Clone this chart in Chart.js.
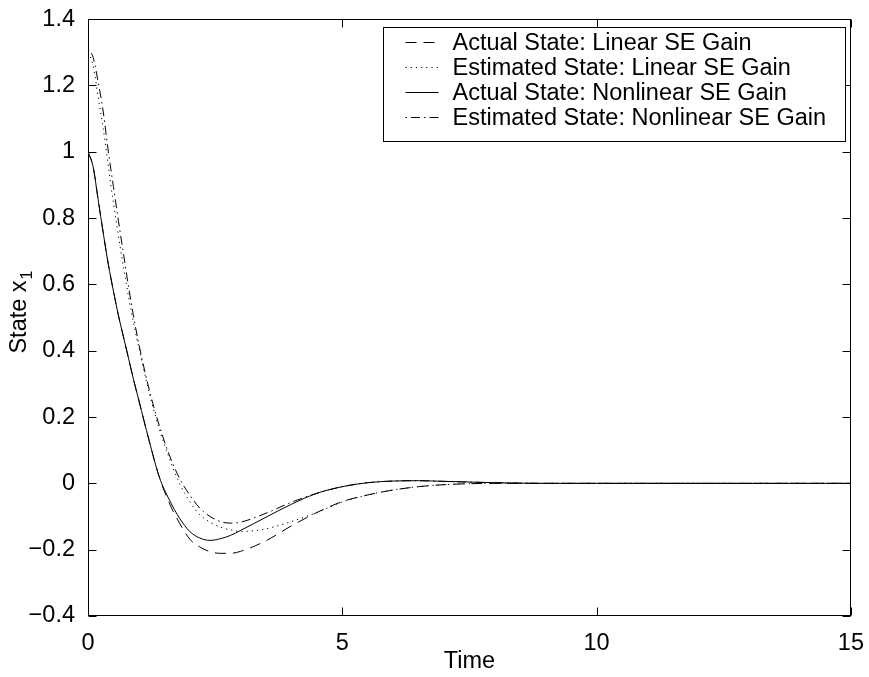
<!DOCTYPE html>
<html>
<head>
<meta charset="utf-8">
<script src="https://cdn.jsdelivr.net/npm/chart.js@4.4.0/dist/chart.umd.min.js"></script>
<style>
html, body { margin: 0; padding: 0; background: #fff; }
#wrap { width: 869px; height: 677px; }
</style>
</head>
<body>
<div id="wrap"><canvas id="myChart" width="869" height="677"></canvas></div>
<script>
// time samples (denser where the curves bend)
var time = [0, 0.1, 0.2, 0.3, 0.4, 0.5, 0.6, 0.7, 0.8, 0.9, 1.0, 1.2, 1.4, 1.6, 1.8, 2.0, 2.2, 2.4, 2.6, 2.8, 3.0, 3.5, 4.0, 4.5, 5.0, 5.5, 6.0, 6.5, 7.0, 8.0, 9.0, 10, 11, 12, 13, 14, 15];

// values
var actualLinear = [1.00, 0.955, 0.855, 0.755, 0.66, 0.58, 0.505, 0.44, 0.375, 0.31, 0.25, 0.13, 0.02, -0.06, -0.12, -0.168, -0.192, -0.206, -0.211, -0.211, -0.205, -0.173, -0.128, -0.088, -0.055, -0.035, -0.02, -0.01, -0.004, 0, 0, 0, 0, 0, 0, 0, 0];
var estimatedLinear = [1.30, 1.26, 1.165, 1.07, 0.955, 0.845, 0.745, 0.65, 0.56, 0.48, 0.41, 0.275, 0.165, 0.075, 0.0, -0.055, -0.095, -0.117, -0.132, -0.14, -0.145, -0.137, -0.115, -0.088, -0.056, -0.035, -0.02, -0.01, -0.004, 0, 0, 0, 0, 0, 0, 0, 0];
var actualNonlinear = [1.00, 0.955, 0.855, 0.755, 0.66, 0.58, 0.505, 0.44, 0.375, 0.31, 0.25, 0.13, 0.02, -0.05, -0.105, -0.145, -0.165, -0.172, -0.167, -0.157, -0.142, -0.102, -0.063, -0.03, -0.01, 0.002, 0.007, 0.008, 0.006, 0.002, 0, 0, 0, 0, 0, 0, 0];
var estimatedNonlinear = [1.31, 1.285, 1.21, 1.12, 1.00, 0.895, 0.79, 0.69, 0.59, 0.50, 0.42, 0.285, 0.175, 0.085, 0.015, -0.035, -0.075, -0.10, -0.115, -0.12, -0.117, -0.09, -0.057, -0.03, -0.01, 0.002, 0.007, 0.008, 0.006, 0.002, 0, 0, 0, 0, 0, 0, 0];

var seriesNames = ['Actual State: Linear SE Gain', 'Estimated State: Linear SE Gain', 'Actual State: Nonlinear SE Gain', 'Estimated State: Nonlinear SE Gain'];
var xTickLabels = ['0', '5', '10', '15'];
var yTickLabels = ['\u22120.4', '\u22120.2', '0', '0.2', '0.4', '0.6', '0.8', '1', '1.2', '1.4'];

var FONT = "'Liberation Sans', Arial, Helvetica, sans-serif";
var FSIZE = 23.5;

function pts(arr) {
    return time.map(function (t, i) { return { x: t, y: arr[i] }; });
}

function ds(label, arr, dash) {
    return {
        label: label,
        data: pts(arr),
        borderColor: '#000',
        borderWidth: 1,
        borderDash: dash,
        pointRadius: 0,
        fill: false,
        cubicInterpolationMode: 'monotone'
    };
}

// box around the axes, inward ticks, legend and y label
var decorations = {
    id: 'decorations',
    afterDatasetsDraw: function (chart) {
        var ctx = chart.ctx, a = chart.chartArea;
        var xs = chart.scales.x, ys = chart.scales.y;
        var L = Math.round(a.left) + 0.5, R = Math.round(a.right) - 0.5;
        var T = Math.round(a.top) + 0.5, B = Math.round(a.bottom) - 0.5;
        ctx.save();
        ctx.strokeStyle = '#000';
        ctx.lineWidth = 1;
        ctx.setLineDash([]);
        ctx.strokeRect(L, T, R - L, B - T);
        var tl = 8;
        ctx.beginPath();
        xs.ticks.forEach(function (t) {
            var px = Math.round(xs.getPixelForValue(t.value)) + 0.5;
            ctx.moveTo(px, B); ctx.lineTo(px, B - tl);
            ctx.moveTo(px, T); ctx.lineTo(px, T + tl);
        });
        ys.ticks.forEach(function (t) {
            var py = Math.round(ys.getPixelForValue(t.value)) + 0.5;
            ctx.moveTo(L, py); ctx.lineTo(L + tl, py);
            ctx.moveTo(R, py); ctx.lineTo(R - tl, py);
        });
        ctx.stroke();

        // legend
        var bw = 462, bh = 114;
        var bx = Math.round(a.right) - 6 - bw + 0.5, by = Math.round(a.top) + 8 + 0.5;
        ctx.fillStyle = '#fff';
        ctx.fillRect(bx, by, bw, bh);
        ctx.strokeRect(bx, by, bw, bh);
        ctx.font = FSIZE + 'px ' + FONT;
        ctx.textBaseline = 'middle';
        ctx.textAlign = 'left';
        chart.data.datasets.forEach(function (d, i) {
            var cy = Math.round(by + 14 + i * 25.3) + 0.5;
            ctx.setLineDash(d.borderDash || []);
            ctx.beginPath();
            ctx.moveTo(bx + 22, cy);
            ctx.lineTo(bx + 55, cy);
            ctx.stroke();
            ctx.setLineDash([]);
            ctx.fillStyle = '#000';
            ctx.fillText(d.label, bx + 69, cy + 1);
        });

        // y axis title with subscript
        var main = 'State x', sub = '1';
        ctx.font = FSIZE + 'px ' + FONT;
        var w1 = ctx.measureText(main).width;
        ctx.font = '16px ' + FONT;
        var w2 = ctx.measureText(sub).width;
        var cyT = (a.top + a.bottom) / 2 - 5;
        ctx.translate(26, cyT + (w1 + w2) / 2);
        ctx.rotate(-Math.PI / 2);
        ctx.textBaseline = 'alphabetic';
        ctx.fillStyle = '#000';
        ctx.font = FSIZE + 'px ' + FONT;
        ctx.fillText(main, 0, 0);
        ctx.font = '16px ' + FONT;
        ctx.fillText(sub, w1 + 1, 6);
        ctx.restore();
    }
};

var ctx = document.getElementById('myChart').getContext('2d');
var chart = new Chart(ctx, {
    type: 'line',
    data: {
        datasets: [
            ds(seriesNames[0], actualLinear, [11, 7]),
            ds(seriesNames[1], estimatedLinear, [1.2, 4]),
            ds(seriesNames[2], actualNonlinear, []),
            ds(seriesNames[3], estimatedNonlinear, [1.5, 4, 9, 4])
        ]
    },
    options: {
        responsive: false,
        animation: false,
        devicePixelRatio: 1,
        layout: { padding: { left: 0, right: 18, top: 16, bottom: 0 } },
        plugins: { legend: { display: false }, tooltip: { enabled: false } },
        scales: {
            x: {
                type: 'linear',
                min: 0,
                max: 15,
                grid: { display: false },
                border: { display: false },
                ticks: {
                    stepSize: 5,
                    padding: 5,
                    color: '#000',
                    maxRotation: 0,
                    font: { family: FONT, size: FSIZE },
                    callback: function (v, i) { return xTickLabels[i]; }
                },
                title: {
                    display: true,
                    text: 'Time',
                    color: '#000',
                    font: { family: FONT, size: FSIZE },
                    padding: { top: 0, bottom: 1 }
                },
                afterFit: function (s) { s.height = 61; }
            },
            y: {
                min: -0.4,
                max: 1.4,
                grid: { display: false },
                border: { display: false },
                ticks: {
                    stepSize: 0.2,
                    padding: 5,
                    color: '#000',
                    font: { family: FONT, size: FSIZE },
                    callback: function (v, i) { return yTickLabels[i]; }
                },
                afterFit: function (s) { s.width = 88; }
            }
        }
    },
    plugins: [decorations]
});
</script>
</body>
</html>
